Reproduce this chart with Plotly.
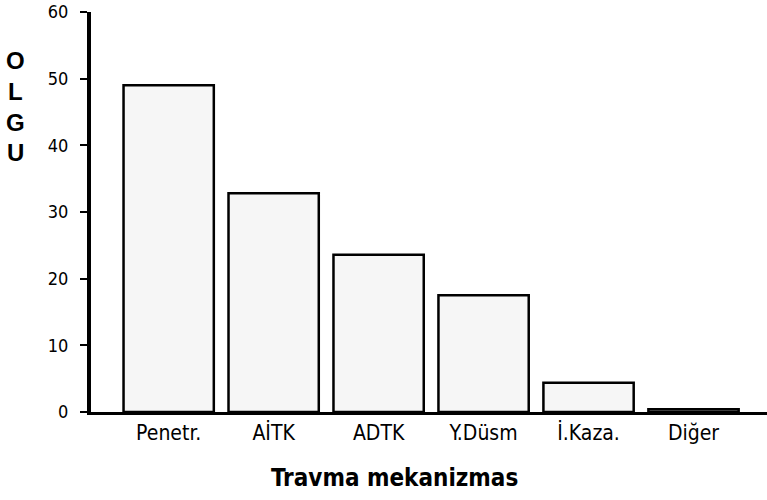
import plotly.graph_objects as go

categories = ["Penetr.", "AİTK", "ADTK", "Y.Düsm", "İ.Kaza.", "Diğer"]
olgu = [49, 32.8, 23.6, 17.5, 4.4, 0.4]
y_ticks = [0, 10, 20, 30, 40, 50, 60]
y_title_letters = ["O", "L", "G", "U"]

FONT = "DejaVu Sans Condensed, Liberation Sans Narrow, Arial Narrow, Arial"

fig = go.Figure(
    go.Bar(
        x=categories,
        y=olgu,
        width=0.86,
        marker=dict(color="#f6f6f6", line=dict(color="black", width=2.5)),
    )
)

# stacked letters of the vertical axis title
letter_y = [0.88, 0.8025, 0.725, 0.65]
annotations = [
    dict(
        text="<b>%s</b>" % ch,
        xref="paper", yref="paper",
        x=-0.112, y=yy,
        xanchor="center", yanchor="middle",
        showarrow=False,
        font=dict(family="Liberation Sans, Arial", size=24),
    )
    for ch, yy in zip(y_title_letters, letter_y)
]
annotations.append(
    dict(
        text="<b>Travma mekanizmas</b>",
        xref="paper", yref="paper",
        x=0.449, y=-0.165,
        xanchor="center", yanchor="middle",
        showarrow=False,
        font=dict(family=FONT, size=24),
    )
)

fig.update_layout(
    width=767,
    height=500,
    margin=dict(l=91, r=0, t=12, b=88, autoexpand=False),
    paper_bgcolor="white",
    plot_bgcolor="white",
    font=dict(family=FONT, color="black", size=16),
    showlegend=False,
    annotations=annotations,
)

fig.update_xaxes(
    range=[-0.74, 5.7],
    showline=True,
    linecolor="black",
    linewidth=3,
    ticks="",
    showgrid=False,
    automargin=False,
    tickfont=dict(size=21),
)

fig.update_yaxes(
    range=[0, 60],
    tickvals=y_ticks,
    showline=True,
    linecolor="black",
    linewidth=4,
    ticks="outside",
    ticklen=7,
    tickwidth=2,
    tickcolor="black",
    showgrid=False,
    zeroline=False,
    automargin=False,
    ticklabeloverflow="allow",
    tickfont=dict(size=18),
    ticklabelstandoff=8,
)

# drop the default body margin so the figure fills the window from the corner
fig.write_html(
    "out.html",
    config={"displayModeBar": False},
    post_script="document.body.style.margin='0';",
)
